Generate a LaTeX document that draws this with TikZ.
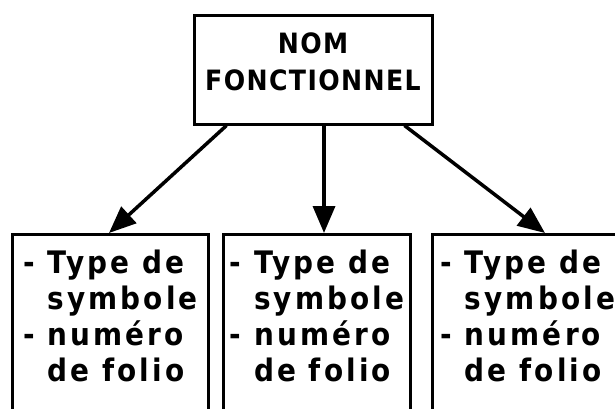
\documentclass[tikz,border=0pt]{standalone}
\usepackage{fontspec}
\newfontfamily\fnfont[LetterSpace=5]{DejaVu Sans Condensed}
\newfontfamily\fnspaced[LetterSpace=10]{DejaVu Sans Condensed}
\usetikzlibrary{arrows.meta,positioning}

\begin{document}
\begin{tikzpicture}[x=1pt,y=-1pt,
  fnbox/.style={draw,line width=3pt,minimum width=238pt,minimum height=109pt,
    align=center,font=\fnfont\bfseries\fontsize{28}{37}\selectfont},
  fninfo/.style={draw,line width=3pt,anchor=north west,align=left,
    inner ysep=15pt,font=\fnspaced\bfseries\fontsize{31}{36}\selectfont},
  fnarr/.style={-{Triangle[length=27pt,width=22pt]},line width=3.5pt}
]
  \useasboundingbox (0,0) rectangle (615,408);
  \clip (0,0) rectangle (615,408);
  % Functional name
  \node[fnbox] (nom) at (313,69.5) {NOM\\FONCTIONNEL\\[-21pt]\mbox{}};
  % Info boxes (open at the bottom)
  \node[fninfo,minimum width=196pt] (lbox) at (11,233)
    {- Type de\\\phantom{- }symbole\\- numéro\\\phantom{- }de folio\\[80pt]\mbox{}};
  \node[fninfo,minimum width=187pt] (mbox) at (222,233)
    {- Type de\\\phantom{- }symbole\\- numéro\\\phantom{- }de folio\\[80pt]\mbox{}};
  \node[fninfo,inner xsep=8pt] (rbox) at (431,233)
    {- Type de\\\phantom{- }symbole\\- numéro\\\phantom{- }de folio\\[80pt]\mbox{}};
  % Arrows
  \draw[fnarr] ([xshift=34pt]nom.south west) -- ([xshift=98pt]lbox.north west);
  \draw[fnarr] ([xshift=11pt]nom.south) -- ([xshift=11pt]nom.south |- mbox.north);
  \draw[fnarr] ([xshift=-29pt]nom.south east) -- ([xshift=114pt]rbox.north west);
\end{tikzpicture}
\end{document}
